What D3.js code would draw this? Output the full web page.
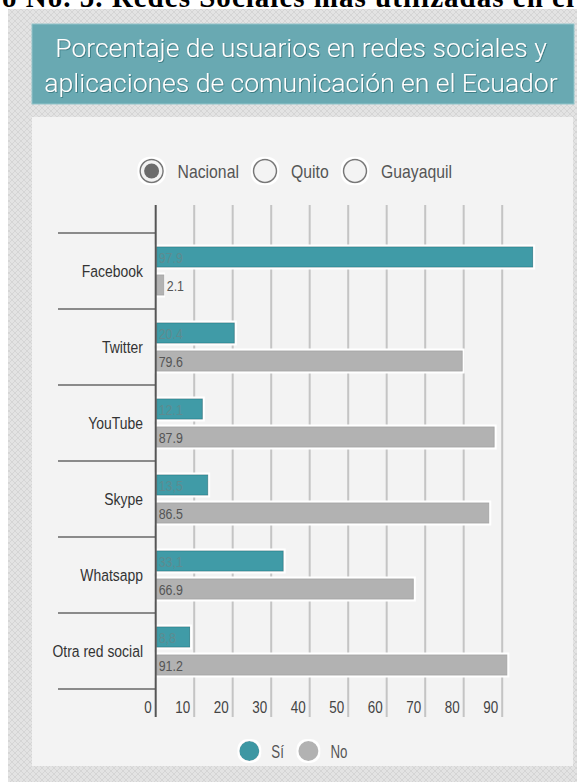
<!DOCTYPE html>
<html>
<head>
<meta charset="utf-8">
<script src="https://cdn.jsdelivr.net/npm/d3@7"></script>
<style>
  body { margin: 0; background: #fff; }
  svg { display: block; }
</style>
</head>
<body>
<script>
const categories = ['Facebook', 'Twitter', 'YouTube', 'Skype', 'Whatsapp', 'Otra red social'];
const siValues = [97.9, 20.4, 12.1, 13.5, 33.1, 8.8];
const siText = ['97.9', '20.4', '12.1', '13,5', '33,1', '8,8'];
const noValues = [2.1, 79.6, 87.9, 86.5, 66.9, 91.2];
const noText = ['2.1', '79.6', '87.9', '86.5', '66.9', '91.2'];
const tickValues = [0, 10, 20, 30, 40, 50, 60, 70, 80, 90];
const regions = ['Nacional', 'Quito', 'Guayaquil'];
const seriesNames = ['Sí', 'No'];
const titleLines = ['Porcentaje de usuarios en redes sociales y', 'aplicaciones de comunicación en el Ecuador'];

const WIDTH = 577;
const HEIGHT = 782;
const NARROW = '"Liberation Sans", Arial, sans-serif';
const TEAL = '#419ba7';
const GREY = '#b2b2b2';

// squeeze a text horizontally around its anchor, to mimic the narrow face
function squeeze(sel, sx) {
  sel.each(function() {
    let x = +this.getAttribute('x') || 0;
    let y = +this.getAttribute('y') || 0;
    d3.select(this)
      .attr('x', 0).attr('y', 0)
      .attr('transform', `translate(${x},${y}) scale(${sx},1)`);
  });
}

let svg = d3.select('body').append('svg')
  .attr('width', WIDTH)
  .attr('height', HEIGHT);

let defs = svg.append('defs');

// crosshatch texture of the outer frame
let pat = defs.append('pattern')
  .attr('id', 'hatch')
  .attr('width', 6).attr('height', 6)
  .attr('patternUnits', 'userSpaceOnUse');
pat.append('rect').attr('width', 6).attr('height', 6).attr('fill', '#e3e3e3');
pat.append('path').attr('d', 'M0,0L6,6M6,0L0,6').attr('stroke', '#d5d5d5').attr('stroke-width', 1);

// white halo around marks
let halo = defs.append('filter').attr('id', 'halo')
  .attr('x', '-10%').attr('y', '-30%').attr('width', '120%').attr('height', '160%');
halo.append('feMorphology').attr('in', 'SourceAlpha').attr('operator', 'dilate').attr('radius', 1.5).attr('result', 'fat');
halo.append('feFlood').attr('flood-color', '#ffffff').attr('result', 'white');
halo.append('feComposite').attr('in', 'white').attr('in2', 'fat').attr('operator', 'in').attr('result', 'outline');
let hm = halo.append('feMerge');
hm.append('feMergeNode').attr('in', 'outline');
hm.append('feMergeNode').attr('in', 'SourceGraphic');

let shadow = defs.append('filter').attr('id', 'tshadow');
shadow.append('feDropShadow').attr('dx', 0.8).attr('dy', 0.8).attr('stdDeviation', 0.6)
  .attr('flood-color', '#1f5b63').attr('flood-opacity', 0.7);

// caption of the page, cut off at the top like in the source scan
svg.append('text')
  .attr('x', 2).attr('y', 7)
  .attr('textLength', 572)
  .attr('lengthAdjust', 'spacing')
  .attr('font-family', '"Liberation Serif", "DejaVu Serif", serif')
  .attr('font-weight', 'bold')
  .attr('font-size', 29)
  .attr('fill', '#000')
  .text('o No. 5.  Redes Sociales más utilizadas en el');

// frames
svg.append('rect').attr('x', 8).attr('y', 9).attr('width', WIDTH - 8).attr('height', HEIGHT - 9)
  .attr('fill', 'url(#hatch)');
svg.append('rect').attr('x', 32).attr('y', 24).attr('width', 542).attr('height', 80)
  .attr('fill', '#69a9b2').attr('stroke', '#93c4ca').attr('stroke-width', 1);
svg.append('rect').attr('x', 32).attr('y', 117).attr('width', 541).attr('height', 649)
  .attr('fill', '#f3f3f3');

svg.selectAll('text.title')
  .data(titleLines)
  .enter()
  .append('text')
  .attr('class', 'title')
  .attr('x', 301)
  .attr('y', (d, i) => 57 + i * 35)
  .attr('text-anchor', 'middle')
  .attr('font-family', 'Roboto, sans-serif')
  .attr('font-weight', 300)
  .attr('font-size', 26.5)
  .attr('fill', '#ffffff')
  .attr('filter', 'url(#tshadow)')
  .text(d => d);

// region selector
const radioX = [151.6, 265, 355];
let radio = svg.selectAll('g.radio')
  .data(regions)
  .enter()
  .append('g')
  .attr('class', 'radio')
  .attr('transform', (d, i) => `translate(${radioX[i]},171)`);
radio.append('circle')
  .attr('r', 11.5)
  .attr('fill', '#f3f3f3')
  .attr('stroke', '#777')
  .attr('stroke-width', 1.5)
  .attr('filter', 'url(#halo)');
radio.filter((d, i) => i === 0)
  .append('circle')
  .attr('r', 7.5)
  .attr('fill', '#6b6b6b');
radio.append('text')
  .attr('x', 26)
  .attr('y', 7)
  .attr('font-family', NARROW)
  .attr('font-size', 19)
  .attr('fill', '#555')
  .text(d => d)
  .call(squeeze, 0.83);

// scales
let xScale = d3.scaleLinear().domain([0, 100]).range([155.7, 540.7]);
let yScale = d3.scaleBand().domain(categories).range([233, 689]);
let subScale = d3.scaleBand().domain(['si', 'no']).range([14, 62]).paddingInner(2 - 48 / 28);

// grid lines
svg.selectAll('line.grid')
  .data(tickValues.slice(1))
  .enter()
  .append('line')
  .attr('class', 'grid')
  .attr('x1', d => xScale(d)).attr('x2', d => xScale(d))
  .attr('y1', 205).attr('y2', 717)
  .attr('stroke', '#c4c4c4')
  .attr('stroke-width', 2);

// category separators
svg.selectAll('line.sep')
  .data(d3.range(categories.length + 1))
  .enter()
  .append('line')
  .attr('class', 'sep')
  .attr('x1', 58).attr('x2', xScale(0))
  .attr('y1', i => 233 + i * yScale.step()).attr('y2', i => 233 + i * yScale.step())
  .attr('stroke', '#8a8a8a')
  .attr('stroke-width', 2);

// category labels
svg.selectAll('text.cat')
  .data(categories)
  .enter()
  .append('text')
  .attr('class', 'cat')
  .attr('x', 143)
  .attr('y', d => yScale(d) + yScale.bandwidth() / 2 + 6)
  .attr('text-anchor', 'end')
  .attr('font-family', NARROW)
  .attr('font-size', 17)
  .attr('fill', '#333')
  .text(d => d)
  .call(squeeze, 0.82);

// bars
let rows = categories.map((c, i) => ({ cat: c, si: siValues[i], siT: siText[i], no: noValues[i], noT: noText[i] }));

svg.selectAll('rect.si')
  .data(rows)
  .enter()
  .append('rect')
  .attr('class', 'si')
  .attr('x', xScale(0) + 1)
  .attr('y', d => yScale(d.cat) + subScale('si'))
  .attr('width', d => xScale(d.si) - xScale(0) - 1)
  .attr('height', subScale.bandwidth())
  .attr('fill', TEAL)
  .attr('stroke', '#2a8792')
  .attr('stroke-width', 1)
  .attr('filter', 'url(#halo)');

svg.selectAll('rect.no')
  .data(rows)
  .enter()
  .append('rect')
  .attr('class', 'no')
  .attr('x', xScale(0) + 1)
  .attr('y', d => yScale(d.cat) + subScale('no'))
  .attr('width', d => xScale(d.no) - xScale(0) - 1)
  .attr('height', subScale.bandwidth())
  .attr('fill', GREY)
  .attr('stroke', '#a6a6a6')
  .attr('stroke-width', 1)
  .attr('filter', 'url(#halo)');

svg.selectAll('text.siv')
  .data(rows)
  .enter()
  .append('text')
  .attr('class', 'siv')
  .attr('x', xScale(0) + 3)
  .attr('y', d => yScale(d.cat) + subScale('si') + subScale.bandwidth() / 2 + 5.5)
  .attr('font-family', NARROW)
  .attr('font-size', 15.5)
  .attr('fill', '#5d8b90')
  .text(d => d.siT)
  .call(squeeze, 0.8);

svg.selectAll('text.nov')
  .data(rows)
  .enter()
  .append('text')
  .attr('class', 'nov')
  .attr('x', d => xScale(d.no) > xScale(0) + 30 ? xScale(0) + 3 : xScale(d.no) + 3)
  .attr('y', d => yScale(d.cat) + subScale('no') + subScale.bandwidth() / 2 + 5.5)
  .attr('font-family', NARROW)
  .attr('font-size', 15.5)
  .attr('fill', '#555')
  .text(d => d.noT)
  .call(squeeze, 0.8);

// zero axis line
svg.append('line')
  .attr('x1', xScale(0)).attr('x2', xScale(0))
  .attr('y1', 205).attr('y2', 717)
  .attr('stroke', '#555')
  .attr('stroke-width', 2);

// tick labels
svg.selectAll('text.tick')
  .data(tickValues)
  .enter()
  .append('text')
  .attr('class', 'tick')
  .attr('x', d => xScale(d) - 4)
  .attr('y', 713)
  .attr('text-anchor', 'end')
  .attr('font-family', NARROW)
  .attr('font-size', 16)
  .attr('fill', '#444')
  .text(d => d)
  .call(squeeze, 0.84);

// legend
const legendX = [249.3, 308.4];
let leg = svg.selectAll('g.leg')
  .data(seriesNames)
  .enter()
  .append('g')
  .attr('class', 'leg')
  .attr('transform', (d, i) => `translate(${legendX[i]},751)`);
leg.append('circle')
  .attr('r', 10)
  .attr('fill', (d, i) => i === 0 ? '#3d97a3' : GREY)
  .attr('filter', 'url(#halo)');
leg.append('text')
  .attr('x', 22)
  .attr('y', 6.5)
  .attr('font-family', NARROW)
  .attr('font-size', 18.5)
  .attr('fill', '#555')
  .text(d => d)
  .call(squeeze, 0.72);
</script>
</body>
</html>
